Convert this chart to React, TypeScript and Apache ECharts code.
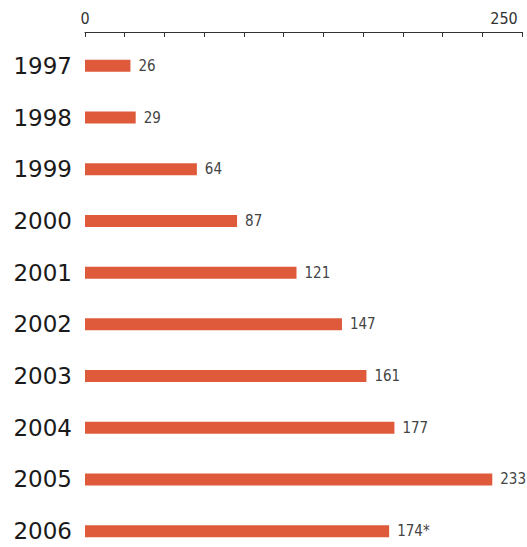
import React, { useEffect, useRef } from "react";
import * as echarts from "echarts";

const years = ["1997", "1998", "1999", "2000", "2001", "2002", "2003", "2004", "2005", "2006"];
const values = [26, 29, 64, 87, 121, 147, 161, 177, 233, 174];
const valueNotes = ["", "", "", "", "", "", "", "", "", "*"];
const axisMin = 0;
const axisMax = 250;
const tickCount = 11;

export default function App() {
  const ref = useRef<HTMLDivElement>(null);
  useEffect(() => {
    if (!ref.current) return;
    const chart = echarts.init(ref.current, null, { renderer: "svg" });
    chart.setOption({
      animation: false,
      backgroundColor: "#ffffff",
      grid: { left: 85, right: 5, top: 40, bottom: 3, containLabel: false, outerBoundsMode: "none" },
      xAxis: {
        type: "value",
        position: "top",
        min: axisMin,
        max: axisMax,
        interval: (axisMax - axisMin) / tickCount,
        offset: 8,
        axisLine: { show: true, lineStyle: { color: "#333333", width: 1 } },
        axisTick: { show: true, inside: true, length: 5, lineStyle: { color: "#333333", width: 1 } },
        splitLine: { show: false },
        axisLabel: {
          margin: 6,
          fontFamily: "DejaVu Sans Condensed",
          fontSize: 16,
          color: "#333333",
          formatter: (v: number) => {
            if (Math.abs(v - axisMin) < 1e-6) return String(axisMin);
            if (Math.abs(v - axisMax) < 1e-6) return `{r|${axisMax}}`;
            return "";
          },
          rich: {
            r: { fontFamily: "DejaVu Sans Condensed", fontSize: 16, color: "#333333", padding: [0, 36, 0, 0] },
          },
        },
      },
      yAxis: {
        type: "category",
        data: years,
        inverse: true,
        axisLine: { show: false },
        axisTick: { show: false },
        splitLine: { show: false },
        axisLabel: {
          margin: 13,
          fontFamily: "DejaVu Sans",
          fontSize: 23,
          color: "#1a1a1a",
        },
      },
      series: [
        {
          type: "bar",
          data: values,
          barWidth: 12,
          itemStyle: { color: "#de5a3a" },
          label: {
            show: true,
            position: "right",
            distance: 8,
            fontFamily: "DejaVu Sans Condensed",
            fontSize: 15,
            color: "#444444",
            formatter: (p: any) => `${values[p.dataIndex]}${valueNotes[p.dataIndex]}`,
          },
        },
      ],
    });
    return () => chart.dispose();
  }, []);
  return (
    <div style={{ width: 527, height: 547, position: "absolute", left: 0, top: 0, overflow: "hidden" }}>
      <div ref={ref} style={{ width: 527, height: 560 }} />
    </div>
  );
}
